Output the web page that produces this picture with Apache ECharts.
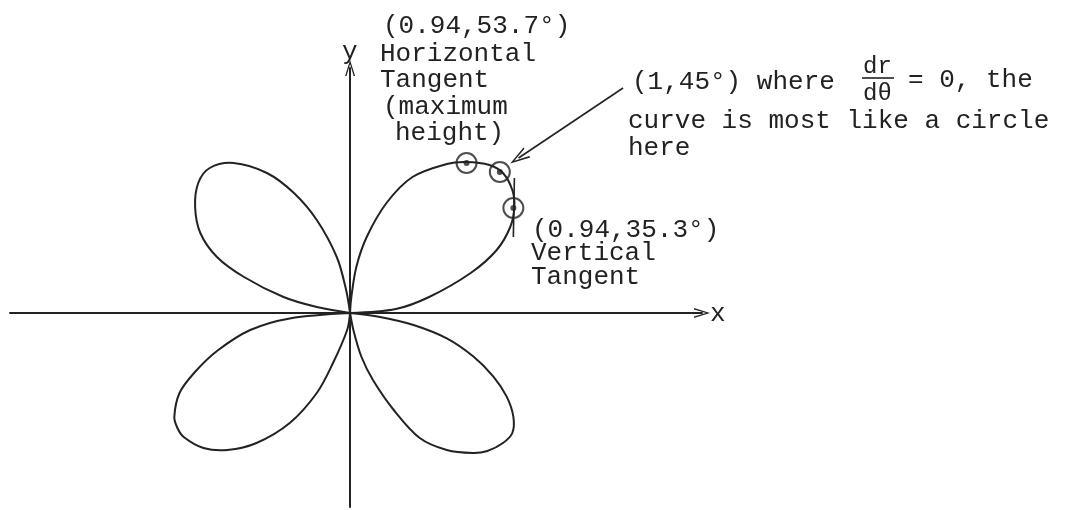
<!DOCTYPE html>
<html>
<head>
<meta charset="utf-8">
<script src="https://cdn.jsdelivr.net/npm/echarts@6/dist/echarts.min.js"></script>
<style>
  html, body { margin: 0; padding: 0; background: #fff; }
  #main { width: 1081px; height: 510px; }
</style>
</head>
<body>
<div id="main"></div>
<script>
// petal outlines, in r-units (x, y)
var petalUpperRight = [[0,0],[0.22,0.02],[0.38,0.08],[0.58,0.20],[0.705,0.315],[0.77,0.43],[0.79,0.53],[0.78,0.615],[0.735,0.70],[0.67,0.74],[0.56,0.755],[0.465,0.745],[0.30,0.68],[0.175,0.55],[0.08,0.38],[0.03,0.23],[0.005,0.07],[0,0]];
var petalUpperLeft = [[0,0],[-0.02,0.12],[-0.064,0.28],[-0.16,0.465],[-0.27,0.60],[-0.40,0.70],[-0.56,0.75],[-0.675,0.725],[-0.73,0.65],[-0.745,0.53],[-0.72,0.40],[-0.64,0.28],[-0.51,0.18],[-0.32,0.08],[-0.16,0.03],[0,0]];
var petalLowerLeft = [[0,0],[-0.29,-0.027],[-0.48,-0.085],[-0.64,-0.19],[-0.75,-0.30],[-0.82,-0.40],[-0.845,-0.52],[-0.83,-0.575],[-0.80,-0.62],[-0.705,-0.675],[-0.59,-0.685],[-0.45,-0.65],[-0.29,-0.55],[-0.16,-0.40],[-0.082,-0.25],[-0.014,-0.085],[0,0]];
var petalLowerRight = [[0,0],[0.144,-0.02],[0.305,-0.06],[0.465,-0.127],[0.593,-0.218],[0.689,-0.318],[0.753,-0.418],[0.785,-0.518],[0.78,-0.60],[0.735,-0.65],[0.66,-0.69],[0.59,-0.70],[0.465,-0.685],[0.335,-0.625],[0.21,-0.485],[0.11,-0.335],[0.055,-0.22],[0.016,-0.085],[0,0]];

// marked points: horizontal tangent, (1,45°), vertical tangent
var markedPoints = [[0.56,0.75],[0.72,0.705],[0.785,0.525]];
// short vertical tangent stroke
var tangentStroke = [[0.79,0.675],[0.785,0.38]];
// pointer from the (1,45°) note to the curve
var pointerFrom = [1.3125,1.125];
var pointerTo = [0.81,0.775];

var ink = '#222';
var mono = '"Liberation Mono", "DejaVu Sans Mono", monospace';
var chevron = 'path://M5,0 L10,16 L8.6,16 L5,4 L1.4,16 L0,16 Z';

// one smooth outline through all points of a petal
function petal(data) {
  return {
    type: 'custom',
    data: data,
    silent: true,
    clip: false,
    renderItem: function (params, api) {
      if (params.dataIndex !== 0) return null;
      var pts = data.map(function (p) { return api.coord(p); });
      return {
        type: 'polyline',
        shape: { points: pts, smooth: 0.33 },
        style: { stroke: ink, lineWidth: 2, fill: null }
      };
    }
  };
}

function txt(str, x, y, size) {
  size = size || 26;
  return {
    type: 'text',
    left: x,
    top: y - size * 0.6 + 4,
    style: {
      text: str,
      fill: ink,
      font: size + 'px ' + mono
    }
  };
}

var chartDom = document.getElementById('main');
var myChart = echarts.init(chartDom);
var option;

option = {
  animation: false,
  backgroundColor: '#fff',
  grid: {
    left: 10,
    right: 379,
    top: 68,
    bottom: 3,
    outerBoundsMode: 'none'
  },
  xAxis: {
    type: 'value',
    min: -1.635,
    max: 1.692,
    axisLine: {
      onZero: true,
      symbol: ['none', chevron],
      symbolSize: [10, 20],
      lineStyle: { color: ink, width: 2 }
    },
    axisTick: { show: false },
    axisLabel: { show: false },
    splitLine: { show: false }
  },
  yAxis: {
    type: 'value',
    min: -0.97,
    max: 1.225,
    axisLine: {
      onZero: true,
      symbol: ['none', chevron],
      symbolSize: [10, 16],
      lineStyle: { color: ink, width: 2 }
    },
    axisTick: { show: false },
    axisLabel: { show: false },
    splitLine: { show: false }
  },
  series: [
    petal(petalUpperRight),
    petal(petalUpperLeft),
    petal(petalLowerLeft),
    petal(petalLowerRight),
    {
      type: 'line',
      data: tangentStroke,
      showSymbol: false,
      silent: true,
      lineStyle: { color: ink, width: 1.6 },
      markLine: {
        silent: true,
        symbol: ['none', chevron],
        symbolSize: [12, 20],
        label: { show: false },
        lineStyle: { color: ink, width: 1.6, type: 'solid' },
        data: [[{ coord: pointerFrom }, { coord: pointerTo }]]
      }
    },
    {
      type: 'scatter',
      data: markedPoints,
      symbol: 'circle',
      symbolSize: 20,
      silent: true,
      itemStyle: { color: 'rgba(0,0,0,0)', borderColor: ink, borderWidth: 2 }
    },
    {
      type: 'scatter',
      data: markedPoints,
      symbol: 'circle',
      symbolSize: 6,
      silent: true,
      itemStyle: { color: ink }
    }
  ],
  graphic: [
    txt('y', 342, 51),
    txt('x', 710, 313),
    txt('(0.94,53.7°)', 383, 25),
    txt('Horizontal', 380, 53),
    txt('Tangent', 380, 79),
    txt('(maximum', 383, 106),
    txt('height)', 395, 132),
    txt('(1,45°) where', 632, 81),
    txt('dr', 863, 65, 24),
    txt('dθ', 863, 92, 24),
    {
      type: 'line',
      shape: { x1: 862, y1: 78, x2: 894, y2: 78 },
      style: { stroke: ink, lineWidth: 1.6 }
    },
    txt('= 0, the', 908, 79),
    txt('curve is most like a circle', 628, 120),
    txt('here', 628, 147),
    txt('(0.94,35.3°)', 532, 229),
    txt('Vertical', 531, 252),
    txt('Tangent', 531, 276)
  ]
};

option && myChart.setOption(option);
</script>
</body>
</html>
